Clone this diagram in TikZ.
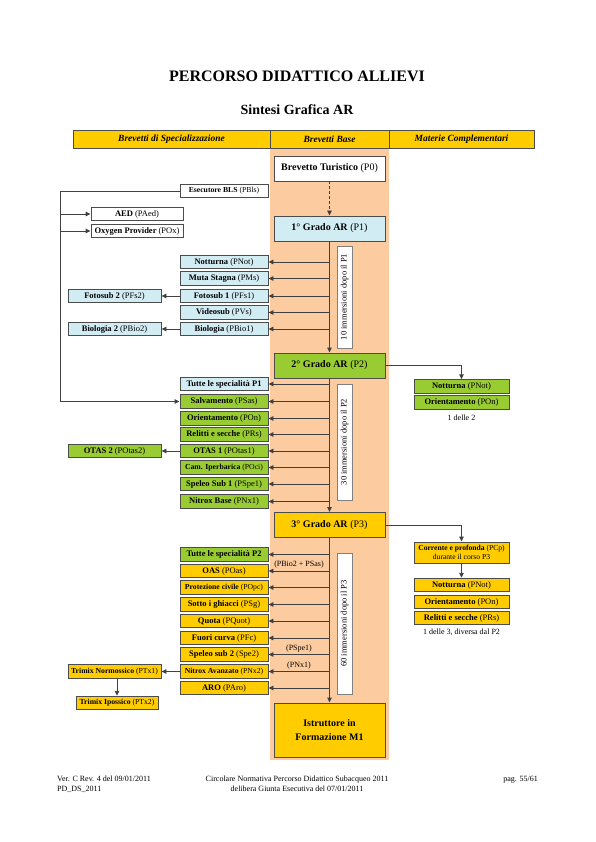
\documentclass[tikz,border=0pt]{standalone}
\usepackage{fontspec}
\setmainfont{Liberation Serif}
\usetikzlibrary{arrows.meta}

\definecolor{gialloAR}{RGB}{255,204,0}
\definecolor{verdeAR}{RGB}{153,204,51}
\definecolor{azzurroAR}{RGB}{210,236,243}
\definecolor{aranciaAR}{RGB}{252,204,160}

\newcommand{\brev}[2]{\textbf{#1} #2}

\tikzset{
  linea/.style={draw=black!75, line width=0.9pt},
  testata/.style={draw=black!70, line width=0.8pt, fill=gialloAR, minimum height=18pt,
    font=\bfseries\itshape\fontsize{9.5}{11}\selectfont},
  base/.style={draw=black!70, line width=0.9pt, minimum width=111pt, minimum height=25pt,
    inner sep=1pt, font=\fontsize{10}{12}\selectfont},
  spec/.style={draw=black!70, line width=0.9pt, minimum width=88pt, minimum height=13.5pt,
    inner sep=0.5pt, font=\fontsize{8.5}{9}\selectfont},
  piccolo/.style={font=\fontsize{7.7}{8}\selectfont},
  tutte/.style={spec, font=\bfseries\fontsize{8.5}{9}\selectfont},
  spec2/.style={spec, minimum width=93pt},
  compl/.style={spec, minimum width=95pt},
  nota/.style={draw=black!50, fill=white, rotate=90, minimum height=15pt, inner sep=1pt,
    font=\fontsize{8.5}{9}\selectfont},
  etichetta/.style={inner sep=1pt, font=\fontsize{8}{9}\selectfont},
  piede/.style={inner sep=0pt, font=\fontsize{8}{9.5}\selectfont}
}

\begin{document}
\begin{tikzpicture}[x=1pt, y=-1pt, >={Triangle[length=5pt,width=4.5pt]}]
    \useasboundingbox (0,0) rectangle (595,842);

    % Titolo
    \node[font=\bfseries\fontsize{16}{18}\selectfont] (titolo) at (297,76) {PERCORSO DIDATTICO ALLIEVI};
    \node[font=\bfseries\fontsize{14}{16}\selectfont] (sottotitolo) at (297,110) {Sintesi Grafica AR};

    % Colonna brevetti base
    \fill[aranciaAR] (270,148) rectangle (389,760);

    % Testata
    \node[testata, minimum width=197pt] (hspec) at (171.5,139) {Brevetti di Specializzazione};
    \node[testata, minimum width=119pt] (hbase) at (329.5,139) {Brevetti Base};
    \node[testata, minimum width=145pt] (hcompl) at (461.5,139) {Materie Complementari};

    % Brevetti base
    \node[base, fill=white] (p0) at (329.5,168.5) {\brev{Brevetto Turistico}{(P0)}};
    \node[base, fill=azzurroAR] (p1) at (329.5,228.5) {\brev{1° Grado AR}{(P1)}};
    \node[base, fill=verdeAR] (p2) at (329.5,365.5) {\brev{2° Grado AR}{(P2)}};
    \node[base, fill=gialloAR] (p3) at (329.5,525) {\brev{3° Grado AR}{(P3)}};
    \node[base, fill=gialloAR, minimum height=54pt, align=center] (m1) at (329.5,730)
      {\textbf{Istruttore in}\\[2pt]\textbf{Formazione M1}};

    \draw[linea, ->, densely dashed] (p0) -- (p1);
    \draw[linea, ->] (p1) -- (p2);
    \draw[linea, ->] (p2) -- (p3);
    \draw[linea, ->] (p3) -- (m1);

    \node[nota, minimum width=102pt] (n1) at (344.5,297) {10 immersioni dopo il P1};
    \node[nota, minimum width=116pt] (n2) at (344.5,442) {30 immersioni dopo il P2};
    \node[nota, minimum width=141pt] (n3) at (344.5,623.5) {60 immersioni dopo il P3};

    % Dopo il P1
    \node[spec, fill=azzurroAR] (pnot) at (224,262) {\brev{Notturna}{(PNot)}};
    \node[spec, fill=azzurroAR] (pms) at (224,278.5) {\brev{Muta Stagna}{(PMs)}};
    \node[spec, fill=azzurroAR] (pfs1) at (224,296) {\brev{Fotosub 1}{(PFs1)}};
    \node[spec, fill=azzurroAR] (pvs) at (224,312.5) {\brev{Videosub}{(PVs)}};
    \node[spec, fill=azzurroAR] (pbio1) at (224,329) {\brev{Biologia}{(PBio1)}};
    \foreach \b in {pnot,pms,pfs1,pvs,pbio1}
      \draw[linea, ->] (p1.south |- \b.east) -- (\b.east);

    \node[spec2, fill=azzurroAR] (pfs2) at (114.5,296) {\brev{Fotosub 2}{(PFs2)}};
    \node[spec2, fill=azzurroAR] (pbio2) at (114.5,329) {\brev{Biologia 2}{(PBio2)}};
    \draw[linea, ->] (pfs1) -- (pfs2);
    \draw[linea, ->] (pbio1) -- (pbio2);

    % Primo soccorso
    \node[spec, piccolo, fill=white] (pbls) at (224,191) {\brev{Esecutore BLS}{(PBls)}};
    \node[spec, minimum width=92pt, fill=white] (paed) at (137,214) {\brev{AED}{(PAed)}};
    \node[spec, minimum width=92pt, fill=white] (pox) at (137,231) {\brev{Oxygen Provider}{(POx)}};

    % Dopo il P2
    \node[tutte, fill=azzurroAR] (tutte1) at (224,384) {Tutte le specialità P1};
    \node[spec, fill=verdeAR] (psas) at (224,401.5) {\brev{Salvamento}{(PSas)}};
    \node[spec, fill=verdeAR] (pon1) at (224,418.5) {\brev{Orientamento}{(POn)}};
    \node[spec, fill=verdeAR] (prs1) at (224,434.5) {\brev{Relitti e secche}{(PRs)}};
    \node[spec, fill=verdeAR] (potas1) at (224,451) {\brev{OTAS 1}{(POtas1)}};
    \node[spec, piccolo, fill=verdeAR] (poci) at (224,467.5) {\brev{Cam. Iperbarica}{(POci)}};
    \node[spec, fill=verdeAR] (pspe1) at (224,484) {\brev{Speleo Sub 1}{(PSpe1)}};
    \node[spec, fill=verdeAR] (pnx1) at (224,501.5) {\brev{Nitrox Base}{(PNx1)}};
    \foreach \b in {tutte1,psas,pon1,prs1,potas1,poci,pspe1,pnx1}
      \draw[linea, ->] (p2.south |- \b.east) -- (\b.east);

    \node[spec2, fill=verdeAR] (potas2) at (114.5,451) {\brev{OTAS 2}{(POtas2)}};
    \draw[linea, ->] (potas1) -- (potas2);

    \draw[linea] (pbls.west) -- ++(-119,0) coordinate (gomito);
    \draw[linea, ->] (gomito) |- (psas.west);
    \draw[linea, ->] (gomito |- paed.west) -- (paed.west);
    \draw[linea, ->] (gomito |- pox.west) -- (pox.west);

    % Dopo il P3
    \node[tutte, fill=verdeAR] (tutte2) at (224,554.5) {Tutte le specialità P2};
    \node[spec, fill=gialloAR] (poas) at (224,571) {\brev{OAS}{(POas)}};
    \node[spec, piccolo, fill=gialloAR] (popc) at (224,587.5) {\brev{Protezione civile}{(POpc)}};
    \node[spec, fill=gialloAR] (psg) at (224,604.5) {\brev{Sotto i ghiacci}{(PSg)}};
    \node[spec, fill=gialloAR] (pquot) at (224,621) {\brev{Quota}{(PQuot)}};
    \node[spec, fill=gialloAR] (pfc) at (224,638) {\brev{Fuori curva}{(PFc)}};
    \node[spec, fill=gialloAR] (pspe2) at (224,654.5) {\brev{Speleo sub 2}{(Spe2)}};
    \node[spec, piccolo, fill=gialloAR] (pnx2) at (224,671.5) {\brev{Nitrox Avanzato}{(PNx2)}};
    \node[spec, fill=gialloAR] (paro) at (224,688) {\brev{ARO}{(PAro)}};
    \foreach \b in {tutte2,psg,pquot,pfc,paro,popc}
      \draw[linea, ->] (p3.south |- \b.east) -- (\b.east);
    \draw[linea, ->] (p3.south |- poas.east) -- node[etichetta, above=1pt] {(PBio2 + PSas)} (poas.east);
    \draw[linea, ->] (p3.south |- pspe2.east) -- node[etichetta, above=0.5pt] {(PSpe1)} (pspe2.east);
    \draw[linea, ->] (p3.south |- pnx2.east) -- node[etichetta, above=0.5pt] {(PNx1)} (pnx2.east);

    \node[spec2, piccolo, fill=gialloAR] (ptx1) at (114.5,671.5) {\brev{Trimix Normossico}{(PTx1)}};
    \node[spec, piccolo, minimum width=82pt, fill=gialloAR] (ptx2) at (117,703) {\brev{Trimix Ipossico}{(PTx2)}};
    \draw[linea, ->] (pnx2) -- (ptx1);
    \draw[linea, ->] (ptx1.south -| ptx2.north) -- (ptx2.north);

    % Materie complementari
    \node[compl, fill=verdeAR] (rnot2) at (461.5,386.5) {\brev{Notturna}{(PNot)}};
    \node[compl, fill=verdeAR] (ron2) at (461.5,402.5) {\brev{Orientamento}{(POn)}};
    \node[etichetta] (delle2) at (461.5,418) {1 delle 2};
    \draw[linea, ->] (p2.east) -| (rnot2.north);

    \node[compl, fill=gialloAR, minimum height=21pt, align=center, font=\fontsize{7.6}{8.5}\selectfont] (pcp) at (461.5,552.5)
      {\brev{Corrente e profonda}{(PCp)}\\durante il corso P3};
    \node[compl, fill=gialloAR] (rnot3) at (461.5,585) {\brev{Notturna}{(PNot)}};
    \node[compl, fill=gialloAR] (ron3) at (461.5,602) {\brev{Orientamento}{(POn)}};
    \node[compl, fill=gialloAR] (rrs3) at (461.5,618) {\brev{Relitti e secche}{(PRs)}};
    \node[etichetta] (delle3) at (461.5,632) {1 delle 3, diversa dal P2};
    \draw[linea, ->] (p3.east) -| (pcp.north);
    \draw[linea, ->] (pcp) -- (rnot3);

    % Piede di pagina
    \node[piede, anchor=north west, align=left] (versione) at (57,776) {Ver. C Rev. 4 del 09/01/2011\\PD\_DS\_2011};
    \node[piede, anchor=north, align=center] (circolare) at (297,776) {Circolare Normativa Percorso Didattico Subacqueo 2011\\delibera Giunta Esecutiva del 07/01/2011};
    \node[piede, anchor=north east] (pagina) at (538,776) {pag. 55/61};
  \end{tikzpicture}
\end{document}
